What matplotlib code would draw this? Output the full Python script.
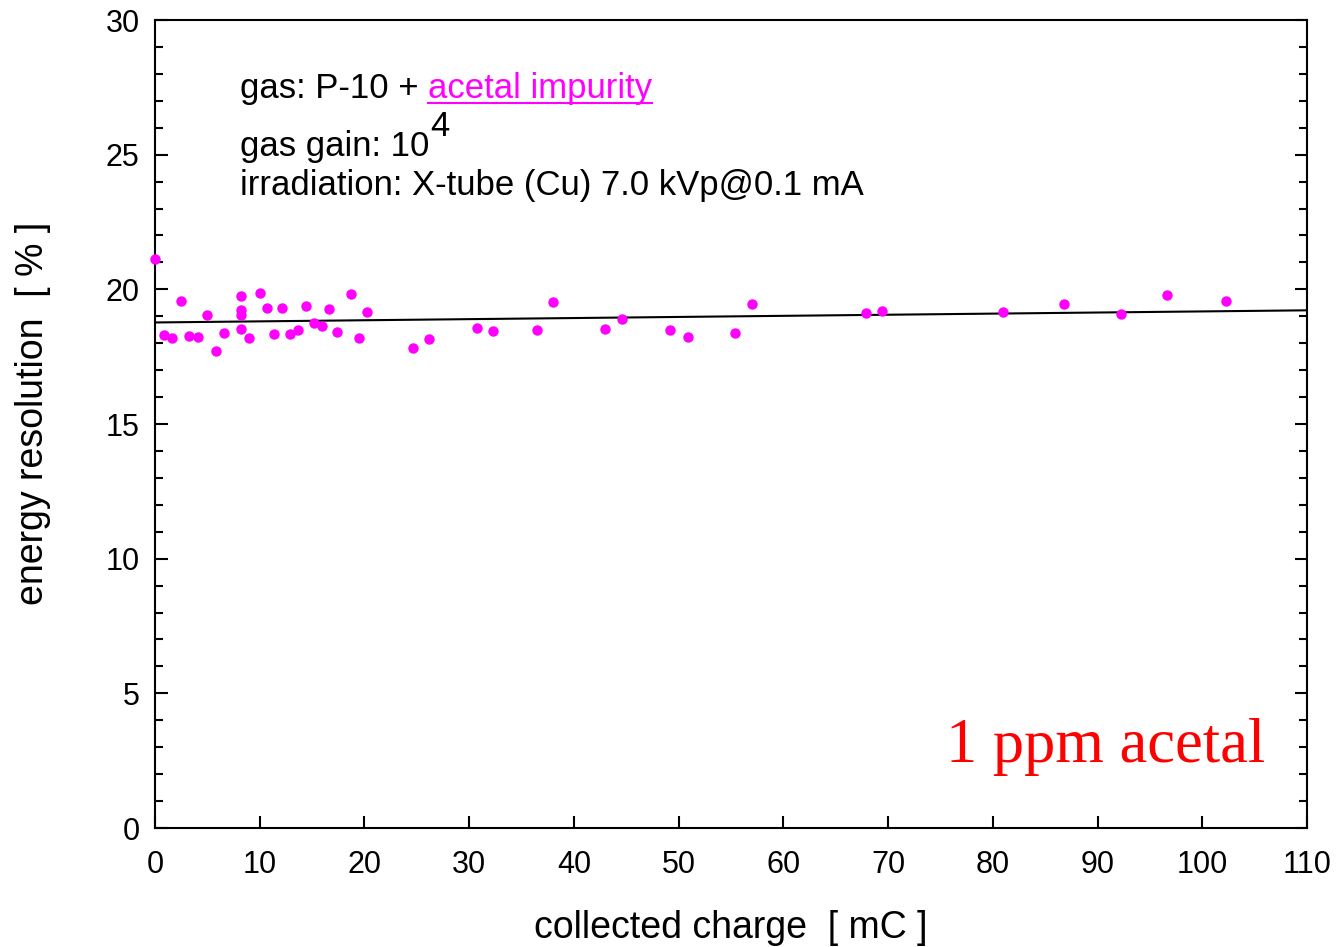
import numpy as np
import matplotlib
matplotlib.use("Agg")
import matplotlib.pyplot as plt
from matplotlib.ticker import MultipleLocator

# collected charge [mC] and energy resolution [%]
charge = [0.0, 0.86, 1.65, 2.48, 3.28, 4.1, 4.97, 5.8, 6.63,
          8.17, 8.17, 8.17, 8.17, 8.97, 9.98, 10.65, 11.38, 12.15,
          12.89, 13.65, 14.42, 15.17, 15.92, 16.64, 17.41, 18.75, 19.51,
          20.2, 24.6, 26.19, 30.7, 32.3, 36.5, 38.0, 43.0, 44.6,
          49.2, 50.85, 55.4, 57.0, 67.9, 69.4, 81.0, 86.75, 92.25,
          96.6, 102.25]
resolution = [21.14, 18.31, 18.21, 19.58, 18.27, 18.22, 19.04, 17.71, 18.37,
              19.77, 19.22, 19.05, 18.54, 18.21, 19.87, 19.30, 18.34, 19.31,
              18.33, 18.48, 19.38, 18.76, 18.64, 19.26, 18.40, 19.83, 18.21,
              19.15, 17.84, 18.15, 18.58, 18.46, 18.48, 19.53, 18.52, 18.90,
              18.49, 18.23, 18.37, 19.45, 19.11, 19.20, 19.15, 19.46, 19.08,
              19.78, 19.56]

# linear fit parameters
fit_intercept = 18.77
fit_slope = 0.0041

x_ticks = [0, 10, 20, 30, 40, 50, 60, 70, 80, 90, 100, 110]
y_ticks = [0, 5, 10, 15, 20, 25, 30]

plt.rcParams['font.family'] = ['Liberation Sans', 'DejaVu Sans']

W, H = 1339, 947
fig = plt.figure(figsize=(W / 100, H / 100), dpi=100)
ax = fig.add_axes([155 / W, 1 - 828 / H, 1152 / W, 808 / H])

ax.plot(charge, resolution, 'o', color='#ff00ff', ms=7.5, mec='none',
        zorder=3, clip_on=False)
xf = np.array([0, 110])
ax.plot(xf, fit_intercept + fit_slope * xf, color='black', lw=1.5, zorder=2)

ax.set_xlim(0, 110)
ax.set_ylim(0, 30)
ax.set_xticks(x_ticks)
ax.set_yticks(y_ticks)
ax.yaxis.set_minor_locator(MultipleLocator(1))
ax.tick_params(which='both', direction='in', right=True, top=False,
               labelsize=22, width=1.5)
ax.tick_params(axis='y', pad=11)
ax.tick_params(axis='x', pad=16)
ax.tick_params(which='major', length=9)
ax.tick_params(which='minor', length=6)
for s in ax.spines.values():
    s.set_linewidth(1.5)

fig.text(731 / W, 1 - 928 / H, 'collected charge  [ mC ]', fontsize=27,
         ha='center', va='center')
fig.text(33 / W, 1 - 413 / H, 'energy resolution  [ % ]', fontsize=27,
         ha='center', va='center', rotation=90)

# annotation block
fs = 25
x0 = 240 / W
fig.canvas.draw()
r = fig.canvas.get_renderer()
t1 = fig.text(x0, 1 - 98 / H, 'gas: P-10 + ', fontsize=fs, va='baseline')
bb = t1.get_window_extent(r)
t2 = fig.text(bb.x1 / W, 1 - 98 / H, 'acetal impurity', fontsize=fs,
              va='baseline', color='#ff00ff')
bb2 = t2.get_window_extent(r)
fig.add_artist(plt.Line2D([bb2.x0 / W, bb2.x1 / W],
                          [1 - 103 / H, 1 - 103 / H],
                          color='#ff00ff', lw=1.5))
t3 = fig.text(x0, 1 - 156 / H, 'gas gain: 10', fontsize=fs, va='baseline')
bb3 = t3.get_window_extent(r)
fig.text(bb3.x1 / W + 0.001, 1 - 136 / H, '4', fontsize=fs, va='baseline')
fig.text(x0, 1 - 195 / H, 'irradiation: X-tube (Cu) 7.0 kVp@0.1 mA',
         fontsize=fs, va='baseline')

fig.text(1265 / W, 1 - 762 / H, '1 ppm acetal', fontsize=45, color='red',
         ha='right', va='baseline', family=['Liberation Serif', 'DejaVu Serif'])

fig.savefig('out.png', dpi=100)
